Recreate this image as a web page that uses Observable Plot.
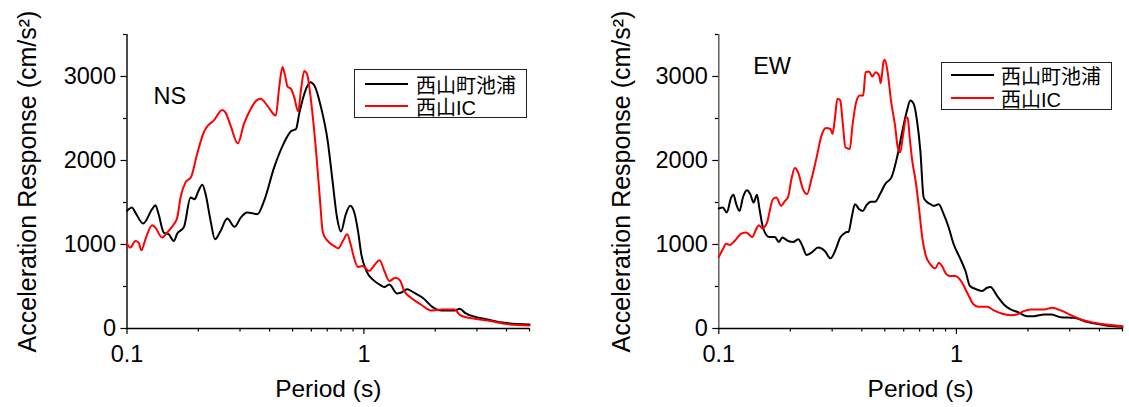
<!DOCTYPE html>
<html>
<head>
<meta charset="utf-8">
<script src="https://cdn.jsdelivr.net/npm/d3@7"></script>
<script src="https://cdn.jsdelivr.net/npm/@observablehq/plot@0.6"></script>
<style>
  body { margin: 0; background: #fff; }
  #wrap { position: relative; width: 1129px; height: 407px; overflow: hidden;
          font-family: 'Liberation Sans', 'Noto Sans CJK JP', sans-serif; }
  .panel { position: absolute; top: 0; }
  .legend { position: absolute; border: 1px solid #222; background: #fff; box-sizing: border-box; }
  .row { position: absolute; height: 26px; display: flex; align-items: center; font-size: 20px;
         white-space: nowrap; color: #000; }
  .sw { display: inline-block; width: 43px; height: 2px; margin-right: 8px; }
</style>
</head>
<body>
<div id="wrap">
  <div id="ns" class="panel" style="left:0px"></div>
  <div id="ew" class="panel" style="left:564px"></div>
</div>
<script>
// ---- data: [period (s), acceleration response (cm/s^2)] ----
const nsIkeura = [[0.1,1400],[0.105,1440],[0.1085,1380],[0.117,1250],[0.1276,1420],[0.1318,1468],[0.136,1360],[0.143,1142],[0.150,1122],[0.1576,1042],[0.163,1130],[0.174,1210],[0.1855,1560],[0.193,1540],[0.199,1620],[0.208,1711],[0.2146,1600],[0.2254,1281],[0.2351,1062],[0.2483,1162],[0.2648,1309],[0.2846,1210],[0.302,1321],[0.322,1381],[0.355,1361],[0.379,1520],[0.418,1918],[0.461,2216],[0.492,2348],[0.517,2375],[0.533,2555],[0.570,2853],[0.594,2933],[0.618,2893],[0.659,2634],[0.703,2236],[0.737,1759],[0.770,1321],[0.800,1154],[0.839,1361],[0.875,1460],[0.908,1393],[0.944,1162],[0.975,883],[1.025,684],[1.10,573],[1.18,513],[1.22,493],[1.28,525],[1.38,418],[1.43,426],[1.52,466],[1.63,426],[1.77,366],[1.95,255],[2.13,215],[2.41,215],[2.54,235],[2.67,187],[2.98,135],[3.33,107],[3.91,68],[5.0,48]];
const nsIC = [[0.1,1010],[0.1033,963],[0.1085,1042],[0.112,1022],[0.115,931],[0.1196,1062],[0.1276,1229],[0.1318,1201],[0.1406,1082],[0.1477,1142],[0.1576,1241],[0.163,1321],[0.1683,1560],[0.1766,1739],[0.1866,1806],[0.1977,2077],[0.211,2336],[0.2194,2415],[0.2324,2475],[0.2524,2602],[0.2606,2570],[0.2737,2415],[0.2937,2204],[0.3117,2435],[0.3327,2614],[0.355,2722],[0.3665,2734],[0.391,2654],[0.4246,2535],[0.439,2873],[0.4532,3112],[0.4638,3024],[0.476,2880],[0.492,2853],[0.508,2754],[0.528,2586],[0.542,2833],[0.560,3064],[0.575,3033],[0.598,2714],[0.628,2117],[0.653,1520],[0.671,1142],[0.703,1042],[0.748,983],[0.779,955],[0.818,1050],[0.850,1122],[0.879,1003],[0.908,844],[0.944,732],[0.985,744],[1.054,684],[1.10,744],[1.165,812],[1.22,684],[1.28,565],[1.36,605],[1.42,573],[1.48,446],[1.58,366],[1.74,286],[1.92,215],[2.13,227],[2.41,227],[2.56,155],[2.94,115],[3.33,95],[3.91,56],[5.0,36]];
const ewIkeura = [[0.1,1428],[0.104,1440],[0.108,1380],[0.1127,1560],[0.1153,1591],[0.1184,1480],[0.1223,1400],[0.1263,1560],[0.1313,1647],[0.1356,1600],[0.1401,1500],[0.1447,1591],[0.1484,1420],[0.1534,1202],[0.1627,1090],[0.172,1090],[0.179,1030],[0.185,1082],[0.1958,1042],[0.2056,1030],[0.216,1062],[0.2248,983],[0.234,875],[0.2455,903],[0.262,963],[0.2793,923],[0.2953,835],[0.3085,923],[0.3245,1082],[0.341,1142],[0.352,1154],[0.3624,1321],[0.374,1480],[0.390,1420],[0.4035,1400],[0.4192,1472],[0.437,1508],[0.4543,1508],[0.477,1600],[0.5013,1719],[0.534,1806],[0.5625,2037],[0.589,2316],[0.6195,2594],[0.6398,2714],[0.661,2674],[0.6825,2475],[0.705,2117],[0.728,1560],[0.7475,1512],[0.777,1480],[0.802,1460],[0.842,1480],[0.884,1361],[0.928,1202],[0.974,1003],[1.033,844],[1.092,684],[1.14,505],[1.215,466],[1.283,446],[1.347,485],[1.39,493],[1.485,386],[1.584,286],[1.69,227],[1.80,199],[1.98,147],[2.12,147],[2.34,167],[2.50,167],[2.75,135],[3.13,127],[3.57,76],[4.2,40],[5.0,20]];
const ewIC = [[0.1,852],[0.104,943],[0.1074,1010],[0.1115,995],[0.1165,1042],[0.1243,1130],[0.1305,1142],[0.1383,1090],[0.1437,1182],[0.1475,1229],[0.1524,1193],[0.1596,1261],[0.1638,1400],[0.169,1540],[0.1747,1560],[0.183,1460],[0.189,1512],[0.1958,1568],[0.2022,1779],[0.209,1910],[0.2157,1858],[0.226,1659],[0.2352,1600],[0.2455,1779],[0.258,2037],[0.2705,2296],[0.2823,2387],[0.2953,2375],[0.301,2316],[0.3085,2515],[0.3155,2734],[0.3245,2714],[0.3327,2435],[0.341,2157],[0.3562,2137],[0.3645,2395],[0.3802,2714],[0.3925,2773],[0.4054,2773],[0.4146,3051],[0.4286,3059],[0.4428,3000],[0.4575,3051],[0.4727,3012],[0.4803,2920],[0.4932,3171],[0.4996,3199],[0.5135,3051],[0.5305,2714],[0.5518,2415],[0.5664,2157],[0.580,2097],[0.5945,2276],[0.6154,2515],[0.6234,2507],[0.6377,2236],[0.6517,1998],[0.6733,1759],[0.6954,1440],[0.7184,1082],[0.7406,883],[0.777,764],[0.8166,716],[0.8425,784],[0.870,744],[0.8984,664],[0.937,625],[0.990,625],[1.057,545],[1.11,426],[1.183,286],[1.24,259],[1.347,259],[1.437,215],[1.56,175],[1.69,159],[1.80,167],[1.92,207],[2.05,227],[2.34,227],[2.53,247],[2.75,215],[3.03,159],[3.35,107],[3.8,68],[5.0,28]];

const seriesNames = ["西山町池浦", "西山IC"];
const seriesColors = ["#000000", "#ff0000"];
const yMajorTicks = [0, 1000, 2000, 3000];
const yMinorTicks = [500, 1500, 2500, 3500];
const xMajorTicks = [0.1, 1];
const xMajorLabels = ["0.1", "1"];
const xMinorTicks = [0.2, 0.3, 0.4, 0.5, 0.6, 0.7, 0.8, 0.9, 2, 3, 4, 5];
const yTitle = "Acceleration Response (cm/s²)";
const xTitle = "Period (s)";

const FONT = "'Liberation Sans', 'Noto Sans CJK JP', sans-serif";

function panel(series, cfg) {
  return Plot.plot({
    width: cfg.width, height: 407,
    marginLeft: cfg.ml, marginRight: cfg.mr, marginTop: 34, marginBottom: 79,
    x: {type: "log", domain: [0.1, 5]},
    y: {domain: [0, 3500]},
    style: {fontFamily: FONT, fontSize: "24px", background: "transparent", color: "#000", overflow: "visible"},
    marks: [
      Plot.axisY({ticks: yMajorTicks, tickSize: 6, tickPadding: 5, fontSize: 23.5, label: null, tickFormat: d => String(d), strokeWidth: 1.2}),
      Plot.axisY({ticks: yMinorTicks, tickSize: 3.5, label: null, tickFormat: () => "", strokeWidth: 1.2}),
      Plot.axisX({ticks: xMajorTicks, tickSize: 6, tickPadding: 11, fontSize: 23.5, label: null,
                  tickFormat: d => xMajorLabels[xMajorTicks.indexOf(d)], strokeWidth: 1.2}),
      Plot.axisX({ticks: xMinorTicks, tickSize: 3.5, label: null, tickFormat: () => "", strokeWidth: 1.2}),
      Plot.ruleX([0.1], {stroke: cfg.axisColor, strokeWidth: 1.4}),
      Plot.ruleY([0], {stroke: "#000", strokeWidth: 1.4}),
      Plot.line(series[0], {x: d => d[0], y: d => d[1], stroke: seriesColors[0], strokeWidth: 2, curve: "monotone-x"}),
      Plot.line(series[1], {x: d => d[0], y: d => d[1], stroke: seriesColors[1], strokeWidth: 2, curve: "monotone-x"}),
      Plot.text([cfg.label], {frameAnchor: "top-left", dx: cfg.ldx, dy: cfg.ldy, textAnchor: "start", lineAnchor: "top", fontSize: 23.5, fill: "#000"}),
      Plot.text([yTitle], {frameAnchor: "left", rotate: -90, dx: -cfg.yTitleOff, textAnchor: "middle", lineAnchor: "top", fontSize: 25, fill: "#000"}),
      Plot.text([xTitle], {frameAnchor: "bottom", dy: 51, textAnchor: "middle", lineAnchor: "top", fontSize: 24.5, fill: "#000"})
    ]
  });
}

document.getElementById("ns").append(panel([nsIkeura, nsIC],
  {width: 564, ml: 126.5, mr: 35, axisColor: "#000", label: "NS", ldx: 26.5, ldy: 52.5, yTitleOff: 108.5}));
document.getElementById("ew").append(panel([ewIkeura, ewIC],
  {width: 565, ml: 154.3, mr: 7, axisColor: "#555", label: "EW", ldx: 34.4, ldy: 22.7, yTitleOff: 106.5}));

// legends
function legend(box, rows, lineX, textX) {
  const wrap = document.getElementById("wrap");
  const b = document.createElement("div");
  b.className = "legend";
  Object.assign(b.style, {left: box[0] + "px", top: box[1] + "px", width: box[2] + "px", height: box[3] + "px"});
  wrap.append(b);
  seriesNames.forEach((name, i) => {
    const r = document.createElement("div");
    r.className = "row";
    r.style.left = lineX + "px";
    r.style.top = (rows[i] - 13) + "px";
    const sw = document.createElement("span");
    sw.className = "sw";
    sw.style.background = seriesColors[i];
    sw.style.marginRight = (textX - lineX - 43) + "px";
    const t = document.createElement("span");
    t.textContent = name;
    r.append(sw, t);
    wrap.append(r);
  });
}
legend([354, 69, 173, 49], [84, 106], 365, 416);
legend([941, 62, 171, 48], [75, 98], 951, 1001);
</script>
</body>
</html>
